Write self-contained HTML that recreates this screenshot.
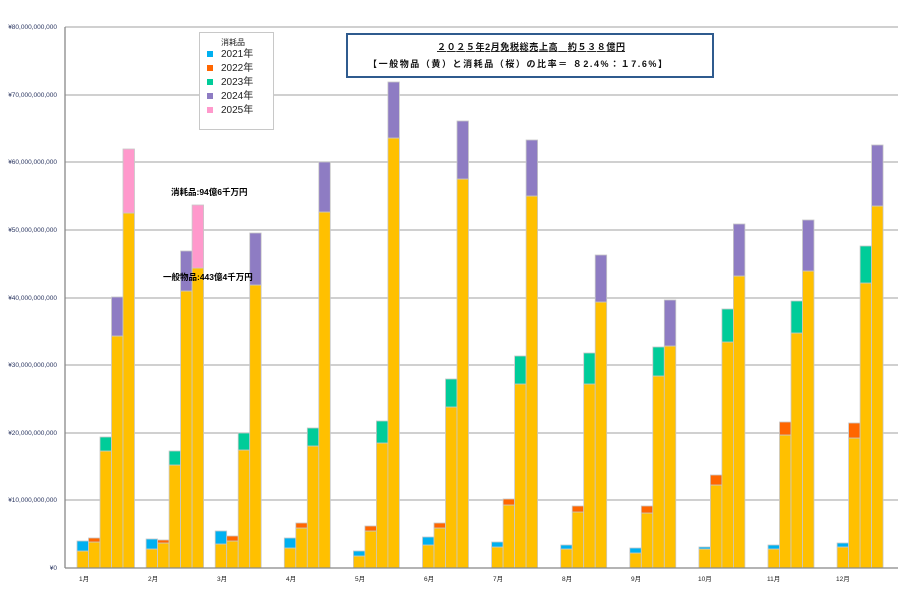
<!DOCTYPE html>
<html><head><meta charset="utf-8"><style>
body{margin:0;background:#fff;width:903px;height:610px;overflow:hidden}
svg{display:block;font-family:"Liberation Sans","Noto Sans CJK JP",sans-serif}
.yl{font-size:6.5px;fill:#2a3560;text-anchor:end}
.ml{font-size:6.5px;fill:#222}
</style></head><body>
<svg id="s" width="903" height="610" viewBox="0 0 903 610">
<g stroke="#b4b4b4" stroke-width="1.3">
<line x1="65" y1="27" x2="898" y2="27"/><line x1="65" y1="95" x2="898" y2="95"/>
<line x1="65" y1="162" x2="898" y2="162"/><line x1="65" y1="230" x2="898" y2="230"/>
<line x1="65" y1="298" x2="898" y2="298"/><line x1="65" y1="365" x2="898" y2="365"/>
<line x1="65" y1="433" x2="898" y2="433"/><line x1="65" y1="500" x2="898" y2="500"/>
</g>
<g id="bars"></g>
<line x1="65" y1="27" x2="65" y2="568" stroke="#888" stroke-width="1.3"/>
<line x1="65" y1="568" x2="898" y2="568" stroke="#888" stroke-width="1.3"/>
<g class="yl">
<text x="57" y="29">¥80,000,000,000</text><text x="57" y="97">¥70,000,000,000</text>
<text x="57" y="164">¥60,000,000,000</text><text x="57" y="232">¥50,000,000,000</text>
<text x="57" y="300">¥40,000,000,000</text><text x="57" y="367">¥30,000,000,000</text>
<text x="57" y="435">¥20,000,000,000</text><text x="57" y="502">¥10,000,000,000</text>
<text x="57" y="570">¥0</text>
</g>
<g class="ml">
<text x="79" y="581">1月</text><text x="148" y="581">2月</text><text x="217" y="581">3月</text>
<text x="286" y="581">4月</text><text x="355" y="581">5月</text><text x="424" y="581">6月</text>
<text x="493" y="581">7月</text><text x="562" y="581">8月</text><text x="631" y="581">9月</text>
<text x="698" y="581">10月</text><text x="767" y="581">11月</text><text x="836" y="581">12月</text>
</g>
<rect x="199.5" y="32.5" width="74" height="97" fill="#fff" stroke="#c8c8c8"/>
<text x="221" y="45" font-size="8" fill="#222">消耗品</text>
<g font-size="10" fill="#222">
<rect x="207" y="51" width="6" height="6" fill="#00b0f0"/><text x="221" y="57">2021年</text>
<rect x="207" y="65" width="6" height="6" fill="#ff6600"/><text x="221" y="71">2022年</text>
<rect x="207" y="79" width="6" height="6" fill="#00cc99"/><text x="221" y="85">2023年</text>
<rect x="207" y="93" width="6" height="6" fill="#8e7cc3"/><text x="221" y="99">2024年</text>
<rect x="207" y="107" width="6" height="6" fill="#ff99cc"/><text x="221" y="113">2025年</text>
</g>
<rect x="347" y="34" width="366" height="43" fill="#fff" stroke="#2f5b8e" stroke-width="2"/>
<text x="437" y="50" font-size="9" font-weight="bold" fill="#111" text-decoration="underline" textLength="188" lengthAdjust="spacing">２０２５年2月免税総売上高　約５３８億円</text>
<text x="368" y="67" font-size="9" font-weight="bold" fill="#111" textLength="299" lengthAdjust="spacing">【一般物品（黄）と消耗品（桜）の比率＝ ８2.4%：１7.6%】</text>
<text x="171" y="195" font-size="8.5" font-weight="bold" fill="#000">消耗品:94億6千万円</text>
<text x="163" y="280" font-size="8.5" font-weight="bold" fill="#000">一般物品:443億4千万円</text>
</svg>
<script>
var d=[
[[541,551],[538,542],[437,451],[297,336],[149,213]],
[[539,549],[540,543],[451,465],[251,291],[205,268]],
[[531,544],[536,541],[433,450],[233,285]],
[[538,548],[523,528],[428,446],[162,212]],
[[551,556],[526,531],[421,443],[82,138]],
[[537,545],[523,528],[379,407],[121,179]],
[[542,547],[499,505],[356,384],[140,196]],
[[545,549],[506,512],[353,384],[255,302]],
[[548,553],[506,513],[347,376],[300,346]],
[[547,549],[475,485],[309,342],[224,276]],
[[545,549],[422,435],[301,333],[220,271]],
[[543,547],[423,438],[246,283],[145,206]]];
var c=["#00b0f0","#ff6600","#00cc99","#8e7cc3","#ff99cc"],h="";
d.forEach(function(m,i){m.forEach(function(b,j){var x=77+i*69.1+j*11.5;
h+='<rect x="'+x+'" y="'+b[1]+'" width="11.5" height="'+(568-b[1])+'" fill="#ffc000" stroke="#c8c8c8" stroke-width="0.8"/>';
h+='<rect x="'+x+'" y="'+b[0]+'" width="11.5" height="'+(b[1]-b[0])+'" fill="'+c[j]+'" stroke="#c8c8c8" stroke-width="0.8"/>';});});
document.getElementById("bars").innerHTML=h;
</script>
</body></html>
